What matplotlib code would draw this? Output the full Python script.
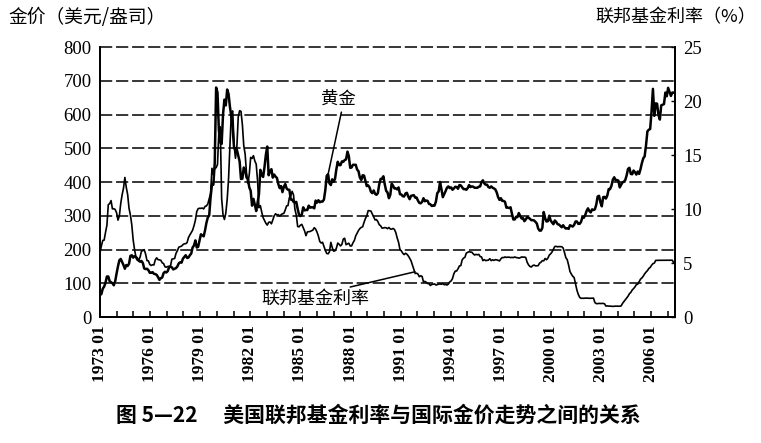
import numpy as np
import matplotlib
matplotlib.use("Agg")
import matplotlib.pyplot as plt

# monthly values, Jan 1973 .. Aug 2007 (as drawn in the printed chart)
gold = [
    65, 68, 84, 90, 102, 120, 120, 106, 103, 100, 94, 106,
    129, 150, 168, 172, 163, 154, 143, 154, 151, 158, 181, 183,
    176, 180, 178, 170, 167, 164, 166, 160, 144, 142, 143, 139,
    131, 131, 133, 128, 127, 125, 118, 110, 115, 117, 130, 134,
    132, 136, 148, 149, 147, 141, 143, 145, 150, 159, 162, 161,
    173, 178, 183, 175, 176, 183, 188, 206, 212, 227, 206, 208,
    227, 245, 242, 239, 257, 279, 295, 301, 355, 392, 392, 456,
    680, 665, 553, 517, 513, 600, 644, 627, 674, 661, 623, 594,
    557, 500, 499, 496, 479, 461, 409, 410, 443, 437, 413, 410,
    384, 374, 330, 350, 333, 314, 340, 364, 436, 422, 415, 444,
    481, 505, 420, 432, 438, 413, 422, 416, 412, 394, 382, 388,
    370, 386, 394, 381, 377, 377, 348, 348, 341, 340, 341, 320,
    303, 299, 304, 325, 316, 317, 317, 330, 324, 325, 325, 322,
    345, 339, 346, 340, 342, 342, 348, 376, 418, 423, 396, 391,
    408, 401, 409, 438, 460, 450, 450, 461, 460, 465, 467, 490,
    477, 442, 443, 451, 451, 451, 437, 432, 413, 406, 420, 419,
    404, 388, 390, 384, 371, 367, 375, 365, 362, 367, 393, 409,
    410, 417, 393, 374, 369, 352, 362, 395, 389, 381, 381, 378,
    384, 364, 363, 358, 357, 366, 368, 357, 349, 359, 360, 361,
    354, 354, 345, 338, 337, 341, 352, 343, 345, 344, 335, 334,
    329, 330, 330, 342, 367, 372, 400, 379, 355, 364, 373, 383,
    387, 382, 384, 377, 381, 386, 385, 380, 391, 390, 384, 379,
    379, 377, 382, 391, 385, 387, 386, 383, 383, 383, 386, 387,
    400, 405, 396, 392, 392, 385, 383, 387, 383, 381, 378, 369,
    355, 347, 352, 344, 344, 341, 324, 324, 323, 325, 306, 289,
    289, 297, 296, 308, 299, 292, 293, 284, 289, 296, 294, 291,
    287, 287, 286, 282, 277, 262, 256, 256, 264, 311, 293, 283,
    284, 300, 286, 280, 275, 286, 282, 275, 274, 270, 266, 272,
    266, 262, 263, 261, 272, 270, 268, 273, 283, 283, 276, 276,
    282, 296, 294, 302, 314, 322, 314, 310, 319, 317, 319, 333,
    357, 359, 340, 328, 355, 356, 351, 360, 379, 379, 389, 407,
    414, 405, 406, 404, 384, 392, 399, 401, 406, 420, 439, 442,
    424, 423, 434, 429, 422, 431, 424, 438, 456, 470, 476, 509,
    550, 555, 557, 610, 676, 596, 633, 632, 598, 585, 627, 629,
    631, 665, 654, 679, 667, 655, 665, 665,
]

fed_rate = [
    5.94, 6.58, 7.09, 7.12, 7.84, 8.49, 10.40, 10.50, 10.78, 10.01, 10.03, 9.95,
    9.65, 8.97, 9.35, 10.51, 11.31, 11.93, 12.92, 12.01, 11.34, 10.06, 9.45, 8.53,
    7.13, 6.24, 5.54, 5.49, 5.22, 5.55, 6.10, 6.14, 6.24, 5.82, 5.22, 5.20,
    4.87, 4.77, 4.84, 4.82, 5.29, 5.48, 5.31, 5.29, 5.25, 5.02, 4.95, 4.65,
    4.61, 4.68, 4.69, 4.73, 5.35, 5.39, 5.42, 5.90, 6.14, 6.47, 6.51, 6.56,
    6.70, 6.78, 6.79, 6.89, 7.36, 7.60, 7.81, 8.04, 8.45, 8.96, 9.76, 10.03,
    10.07, 10.06, 10.09, 10.01, 10.24, 10.29, 10.47, 10.94, 11.43, 13.77, 13.18, 13.78,
    13.82, 14.13, 17.19, 17.61, 10.98, 9.47, 9.03, 9.61, 10.87, 12.81, 15.85, 18.90,
    19.08, 15.93, 14.70, 15.72, 18.52, 19.10, 19.04, 17.82, 15.87, 15.08, 13.31, 12.37,
    13.22, 14.78, 14.68, 14.94, 14.45, 14.15, 12.59, 10.12, 10.31, 9.71, 9.20, 8.95,
    8.68, 8.51, 8.77, 8.80, 8.63, 8.98, 9.37, 9.56, 9.45, 9.48, 9.34, 9.47,
    9.56, 9.59, 9.91, 10.29, 10.32, 11.06, 11.23, 11.64, 11.30, 9.99, 9.43, 8.38,
    8.35, 8.50, 8.58, 8.27, 7.97, 7.53, 7.88, 7.90, 7.92, 7.99, 8.05, 8.27,
    8.14, 7.86, 7.48, 6.99, 6.85, 6.92, 6.56, 6.17, 5.89, 5.85, 6.04, 6.91,
    6.43, 6.10, 6.13, 6.37, 6.85, 6.73, 6.58, 6.73, 7.22, 7.29, 6.69, 6.77,
    6.83, 6.58, 6.58, 6.87, 7.09, 7.51, 7.75, 8.01, 8.19, 8.30, 8.35, 8.76,
    9.12, 9.36, 9.85, 9.84, 9.81, 9.53, 9.24, 8.99, 9.02, 8.84, 8.55, 8.45,
    8.23, 8.24, 8.28, 8.26, 8.18, 8.29, 8.15, 8.13, 8.20, 8.11, 7.81, 7.31,
    6.91, 6.25, 6.12, 5.91, 5.78, 5.90, 5.82, 5.66, 5.45, 5.21, 4.81, 4.43,
    4.03, 4.06, 3.98, 3.73, 3.82, 3.76, 3.25, 3.30, 3.22, 3.10, 3.09, 2.92,
    3.02, 3.03, 3.07, 2.96, 3.00, 3.04, 3.06, 3.03, 3.09, 2.99, 3.02, 2.96,
    3.05, 3.25, 3.34, 3.56, 4.01, 4.25, 4.26, 4.47, 4.73, 4.76, 5.29, 5.45,
    5.53, 5.92, 5.98, 6.05, 6.01, 6.00, 5.85, 5.74, 5.80, 5.76, 5.80, 5.60,
    5.56, 5.22, 5.31, 5.22, 5.24, 5.27, 5.40, 5.22, 5.30, 5.24, 5.31, 5.29,
    5.25, 5.19, 5.39, 5.51, 5.50, 5.56, 5.52, 5.54, 5.54, 5.50, 5.52, 5.50,
    5.56, 5.51, 5.49, 5.45, 5.49, 5.56, 5.54, 5.55, 5.51, 5.07, 4.83, 4.68,
    4.63, 4.76, 4.81, 4.74, 4.74, 4.76, 4.99, 5.07, 5.22, 5.20, 5.42, 5.30,
    5.45, 5.73, 5.85, 6.02, 6.27, 6.53, 6.54, 6.50, 6.52, 6.51, 6.51, 6.40,
    5.98, 5.49, 5.31, 4.80, 4.21, 3.97, 3.77, 3.65, 3.07, 2.49, 2.09, 1.82,
    1.73, 1.74, 1.73, 1.75, 1.75, 1.75, 1.73, 1.74, 1.75, 1.75, 1.34, 1.24,
    1.24, 1.26, 1.25, 1.26, 1.26, 1.22, 1.01, 1.03, 1.01, 1.01, 1.00, 0.98,
    1.00, 1.01, 1.00, 1.00, 1.00, 1.03, 1.26, 1.43, 1.61, 1.76, 1.93, 2.16,
    2.28, 2.50, 2.63, 2.79, 3.00, 3.04, 3.26, 3.50, 3.62, 3.78, 4.00, 4.16,
    4.29, 4.49, 4.59, 4.79, 4.94, 4.99, 5.24, 5.25, 5.25, 5.25, 5.25, 5.24,
    5.25, 5.26, 5.26, 5.25, 5.25, 5.25, 5.26, 5.02,
]

label_years = [1973, 1976, 1979, 1982, 1985, 1988, 1991, 1994, 1997, 2000, 2003, 2006]
gold_ticks = [0, 100, 200, 300, 400, 500, 600, 700, 800]
rate_ticks = [0, 5, 10, 15, 20, 25]

# the printed chart squeezes Jan 1973 .. Aug 2007 into 1973.0 .. 2007.35
x = np.linspace(1973.0, 2007.35, len(gold))

cjk = ['Noto Sans CJK SC', 'DejaVu Sans']
num_font = 'Liberation Serif'

fig = plt.figure(figsize=(7.61, 4.43), dpi=100)
ax = fig.add_axes([0.1314, 0.2844, 0.7556, 0.6095])
ax2 = ax.twinx()

ax.plot(x, gold, color='black', lw=1.8, zorder=3)
ax2.plot(x, fed_rate, color='black', lw=1.2, zorder=3)

ax.set_xlim(1973.0, 2007.43)
ax.set_ylim(0, 800)
ax2.set_ylim(0, 25)

# dashed horizontal grid, top edge is a dashed line too
for g in gold_ticks[1:]:
    ax.axhline(g, color='black', lw=1.1, dashes=(8, 2.5), zorder=1, clip_on=False)

for a in (ax, ax2):
    a.spines['top'].set_visible(False)
    for s in ('left', 'right', 'bottom'):
        a.spines[s].set_linewidth(1.3)

ax.set_yticks(gold_ticks)
ax.set_yticklabels([str(v) for v in gold_ticks], fontfamily=num_font, fontsize=13.5)
ax.tick_params(axis='y', length=0, pad=6)

ax2.set_yticks(rate_ticks)
ax2.set_yticklabels([str(v) for v in rate_ticks], fontfamily=num_font, fontsize=13.5)
ax2.tick_params(axis='y', direction='in', length=3, width=1, pad=6)

ax.set_xticks(label_years)
ax.set_xticklabels([f"{y} 01" for y in label_years], rotation=90,
                   fontfamily=num_font, fontsize=12.5, fontweight='bold', va='top')
ax.set_xticks(range(1974, 2008), minor=True)
ax.tick_params(axis='x', which='both', direction='in', length=4, width=1.1, pad=6)

# annotations
ax.annotate('黄金', xy=(1986.65, 421), xytext=(1987.3, 646),
            ha='center', va='center', fontsize=12.5, family=cjk,
            arrowprops=dict(arrowstyle='-', color='black', lw=1.1,
                            relpos=(0.6, 0.0), shrinkA=1, shrinkB=0))
ax.annotate('联邦基金利率', xy=(1991.86, 134), xytext=(1985.9, 53),
            ha='center', va='center', fontsize=13, family=cjk,
            arrowprops=dict(arrowstyle='-', color='black', lw=1.1,
                            relpos=(0.7, 1.0), shrinkA=1, shrinkB=0))

fig.text(8 / 761, 1 - 17 / 443, '金价（美元/盎司）', ha='left', va='center',
         fontsize=13.5, family=cjk)
fig.text(756 / 761, 1 - 17 / 443, '联邦基金利率（%）', ha='right', va='center',
         fontsize=13, family=cjk)
fig.text(0.497, 1 - 415 / 443, '图 5—22\u3000 美国联邦基金利率与国际金价走势之间的关系',
         ha='center', va='center', fontsize=15, fontweight='bold', family=cjk)

fig.savefig('out.png', dpi=100)
